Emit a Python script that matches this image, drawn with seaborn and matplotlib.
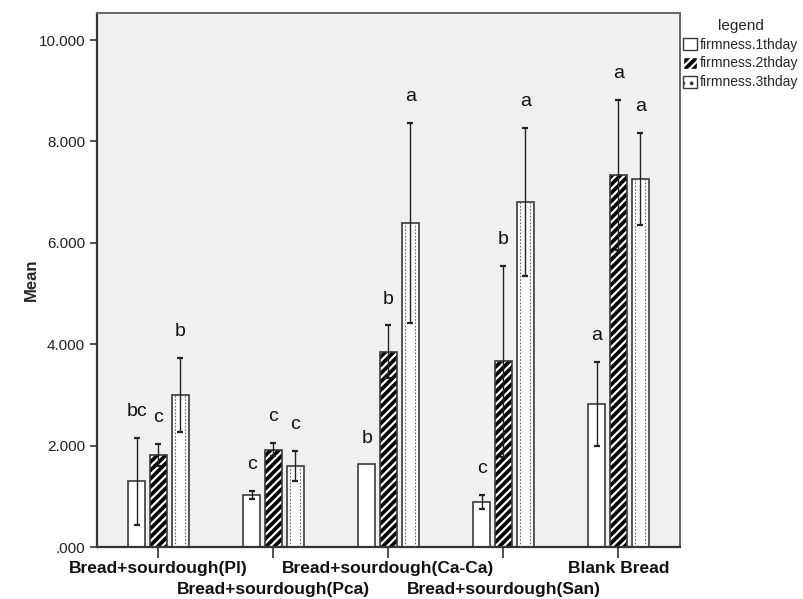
import numpy as np
import pandas as pd
import matplotlib
matplotlib.use('Agg')
import matplotlib.pyplot as plt
import seaborn as sns
from matplotlib.patches import Patch
from matplotlib.ticker import FuncFormatter

sns.set_theme(style='white')
plt.rcParams['font.family'] = ['Liberation Sans', 'DejaVu Sans']
plt.rcParams['hatch.linewidth'] = 1.6

# data
groups = ['Bread+sourdough(Pl)', 'Bread+sourdough(Pca)', 'Bread+sourdough(Ca-Ca)',
          'Bread+sourdough(San)', 'Blank Bread']
days = ['firmness.1thday', 'firmness.2thday', 'firmness.3thday']

day1_mean = [1.30, 1.02, 1.63, 0.88, 2.82]
day2_mean = [1.81, 1.92, 3.85, 3.66, 7.34]
day3_mean = [3.00, 1.60, 6.39, 6.80, 7.26]

day1_err = [0.86, 0.08, np.nan, 0.14, 0.83]
day2_err = [0.22, 0.13, 0.52, 1.89, 1.48]
day3_err = [0.73, 0.30, 1.98, 1.46, 0.91]

day1_letter = ['bc', 'c', 'b', 'c', 'a']
day2_letter = ['c', 'c', 'b', 'b', 'a']
day3_letter = ['b', 'c', 'a', 'a', 'a']


def build_frame():
    rows = []
    for day, means, errs, letters in zip(days,
                                         [day1_mean, day2_mean, day3_mean],
                                         [day1_err, day2_err, day3_err],
                                         [day1_letter, day2_letter, day3_letter]):
        for g, m, e, l in zip(groups, means, errs, letters):
            rows.append({'group': g, 'day': day, 'mean': m, 'err': e, 'letter': l})
    return pd.DataFrame(rows)


def draw(df):
    fig = plt.figure(figsize=(8.04, 5.99), dpi=100)
    ax = fig.add_axes([0.1206, 0.0868, 0.7252, 0.8912])
    ax.set_facecolor('#f0f0f0')

    sns.barplot(data=df, x='group', y='mean', hue='day', order=groups, hue_order=days,
                palette=['white', 'black', 'white'], width=0.57, gap=0.23,
                errorbar=None, legend=False, ax=ax, zorder=2)

    edge = '#3a3a3a'
    for day, cont in zip(days, ax.containers):
        sub = df[df.day == day].set_index('group').loc[groups]
        for bar, (g, row) in zip(cont, sub.iterrows()):
            x, w, h = bar.get_x(), bar.get_width(), bar.get_height()
            bar.set_linewidth(1.2)
            if day == days[1]:
                bar.set_facecolor('black')
                bar.set_edgecolor('white')
                bar.set_hatch('////')
                bar.set_linewidth(0)
                ax.bar(x, h, width=w, align='edge', fill=False, edgecolor=edge,
                       linewidth=1.2, zorder=3)
            else:
                bar.set_edgecolor(edge)
            if day == days[2]:
                ax.vlines([x + 0.2 * w, x + 0.8 * w], 0, h, colors='#666666',
                          linestyles=(0, (1.5, 1.5)), linewidth=0.8, zorder=3)
            cx = x + w / 2
            top = h
            if not np.isnan(row['err']):
                ax.errorbar(cx, h, yerr=row['err'], fmt='none', ecolor='#222222',
                            elinewidth=1.0, capsize=2.2, capthick=1.6, zorder=4)
                top = h + row['err']
            ax.text(cx, top + 0.52, row['letter'], ha='center', va='center',
                    fontsize=14, color='#111111')

    ax.set_xlim(-0.535, 4.535)
    ax.set_ylim(0, 10.53)
    ax.set_yticks([0, 2, 4, 6, 8, 10])
    ax.yaxis.set_major_formatter(FuncFormatter(lambda v, p: ('%.3f' % v).lstrip('0') if v == 0 else '%.3f' % v))
    ax.set_xticks(range(len(groups)))
    ax.set_xticklabels(groups, fontweight='bold', fontsize=12.5, color='#111111')
    ax.tick_params(axis='x', which='major', length=8, width=1.2, color='#333333', pad=2,
                   bottom=True)
    for i, t in enumerate(ax.xaxis.get_major_ticks()):
        if i % 2 == 1:
            t.tick1line.set_markersize(27)
            t.set_pad(17)
    ax.tick_params(axis='y', length=5, width=1.2, color='#333333', labelsize=11,
                   left=True, labelcolor='#222222')
    ax.set_xlabel('')
    ax.set_ylabel('Mean', fontweight='bold', fontsize=12, labelpad=0)

    for s in ['top', 'right']:
        ax.spines[s].set_color('#666666')
        ax.spines[s].set_linewidth(1.4)
    for s in ['left', 'bottom']:
        ax.spines[s].set_color('#333333')
        ax.spines[s].set_linewidth(1.6)

    handles = [Patch(facecolor='white', edgecolor=edge, label=days[0]),
               Patch(facecolor='black', edgecolor='white', hatch='////', label=days[1]),
               Patch(facecolor='white', edgecolor=edge, hatch='..', label=days[2])]
    fig.legend(handles=handles, title='legend', loc='upper left',
               bbox_to_anchor=(0.843, 0.978), frameon=False, fontsize=10,
               title_fontsize=11, handlelength=0.95, handleheight=0.95,
               handletextpad=0.2, labelspacing=0.35, borderaxespad=0)

    fig.savefig('out.png', dpi=100)


def main():
    df = build_frame()
    draw(df)


if __name__ == '__main__':
    main()
